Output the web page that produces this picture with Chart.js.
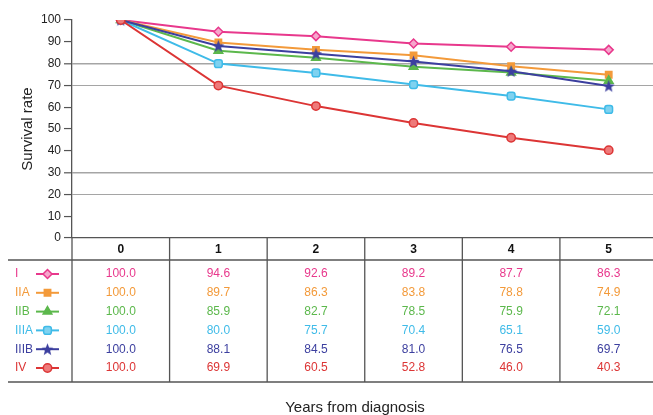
<!DOCTYPE html>
<html>
<head>
<meta charset="utf-8">
<script src="https://cdn.jsdelivr.net/npm/chart.js@4/dist/chart.umd.min.js"></script>
<style>
html, body { margin: 0; padding: 0; background: #fff; overflow: hidden; }
</style>
</head>
<body>
<canvas id="survival" width="665" height="415"></canvas>
<script>
var years = ['0', '1', '2', '3', '4', '5'];
var stages = ['I', 'IIA', 'IIB', 'IIIA', 'IIIB', 'IV'];
var stageI    = [100.0, 94.6, 92.6, 89.2, 87.7, 86.3];
var stageIIA  = [100.0, 89.7, 86.3, 83.8, 78.8, 74.9];
var stageIIB  = [100.0, 85.9, 82.7, 78.5, 75.9, 72.1];
var stageIIIA = [100.0, 80.0, 75.7, 70.4, 65.1, 59.0];
var stageIIIB = [100.0, 88.1, 84.5, 81.0, 76.5, 69.7];
var stageIV   = [100.0, 69.9, 60.5, 52.8, 46.0, 40.3];
var yTicks = [0, 10, 20, 30, 40, 50, 60, 70, 80, 90, 100];
var shadedLines = [20, 30, 70, 80];

var series = [stageI, stageIIA, stageIIB, stageIIIA, stageIIIB, stageIV];
var colors = ['#e8388c', '#f39a3a', '#5cb84c', '#3fbbe8', '#3c3f9f', '#dc3535'];
var fills  = ['#f6a6cc', '#f39a3a', '#5cb84c', '#7fd2f0', '#3c3f9f', '#ee7a7a'];

// filled five point star, the library's 'star' is only an asterisk
function starImage(color){
	var c = document.createElement('canvas');
	c.width = 13; c.height = 13;
	var g = c.getContext('2d');
	g.fillStyle = color;
	g.beginPath();
	for (var i = 0; i < 10; i++) {
		var r = i % 2 == 0 ? 6.4 : 2.7;
		var a = -Math.PI / 2 + i * Math.PI / 5;
		g.lineTo(6.5 + r * Math.cos(a), 7 + r * Math.sin(a));
	}
	g.closePath();
	g.fill();
	return c;
}
var styles = ['rectRot', 'rect', 'triangle', 'rectRounded', starImage('#3c3f9f'), 'circle'];
var radii = [4.5, 4.5, 5, 4.5, 6, 4.2];

var datasets = series.map(function(vals, i){
	return {
		label: stages[i],
		data: vals,
		borderColor: colors[i],
		backgroundColor: fills[i],
		borderWidth: 2,
		pointStyle: styles[i],
		pointRadius: radii[i],
		pointBorderWidth: 1.5,
		pointBorderColor: colors[i],
		pointBackgroundColor: fills[i],
		tension: 0,
		order: series.length - i
	};
});

var tablePlugin = {
	id: 'survivalTable',
	afterDraw: function(chart){
		var ctx = chart.ctx;
		var area = chart.chartArea;
		var xs = chart.scales.x;
		var top = area.bottom;
		var rule = top + 22;
		var bottom = top + 144;
		var right = chart.width;
		ctx.save();
		ctx.strokeStyle = '#555';
		ctx.lineWidth = 1.3;
		ctx.beginPath();
		ctx.moveTo(8, rule); ctx.lineTo(right, rule);
		ctx.moveTo(8, bottom); ctx.lineTo(right, bottom);
		ctx.moveTo(area.left, top); ctx.lineTo(area.left, bottom);
		for (var i = 1; i < years.length; i++) {
			var x = (xs.getPixelForValue(i - 1) + xs.getPixelForValue(i)) / 2;
			ctx.moveTo(x, top); ctx.lineTo(x, bottom);
		}
		ctx.stroke();

		ctx.textBaseline = 'middle';
		ctx.textAlign = 'center';
		ctx.fillStyle = '#111';
		ctx.font = 'bold 12px "Liberation Sans", Arial, sans-serif';
		for (var h = 0; h < years.length; h++) {
			ctx.fillText(years[h], xs.getPixelForValue(h), top + 12);
		}

		ctx.font = '12px "Liberation Sans", Arial, sans-serif';
		for (var r = 0; r < series.length; r++) {
			var y = top + 36 + r * 18.8;
			ctx.fillStyle = colors[r];
			ctx.textAlign = 'left';
			ctx.fillText(stages[r], 15, y);
			ctx.strokeStyle = colors[r];
			ctx.lineWidth = 2;
			ctx.beginPath();
			ctx.moveTo(36, y); ctx.lineTo(59, y);
			ctx.stroke();
			ctx.fillStyle = fills[r];
			ctx.lineWidth = 1.5;
			Chart.helpers.drawPoint(ctx, {pointStyle: styles[r], radius: radii[r], borderWidth: 1.5}, 47.5, y);
			ctx.textAlign = 'center';
			ctx.fillStyle = colors[r];
			for (var c = 0; c < years.length; c++) {
				ctx.fillText(series[r][c].toFixed(1), xs.getPixelForValue(c), y);
			}
		}

		ctx.fillStyle = '#222';
		ctx.font = '15px "Liberation Sans", Arial, sans-serif';
		ctx.textAlign = 'center';
		ctx.fillText('Years from diagnosis', 355, 408);
		ctx.restore();
	}
};

new Chart(document.getElementById('survival'), {
	type: 'line',
	data: { labels: years, datasets: datasets },
	plugins: [tablePlugin],
	options: {
		responsive: false,
		animation: false,
		layout: { padding: { top: 20, right: 0, bottom: 177, left: 0 } },
		plugins: { legend: { display: false }, tooltip: { enabled: false } },
		scales: {
			x: {
				type: 'category',
				offset: true,
				grid: { display: false },
				border: { display: true, color: '#555', width: 1.3 },
				ticks: { display: false },
				afterFit: function(scale){ scale.height = 0; }
			},
			y: {
				min: 0,
				max: 100,
				afterBuildTicks: function(scale){
					scale.ticks = yTicks.map(function(v){ return { value: v }; });
				},
				afterFit: function(scale){ scale.width = 72; },
				grid: {
					color: function(c){ return shadedLines.indexOf(c.tick.value) >= 0 ? '#a5a5a5' : 'rgba(0,0,0,0)'; },
					lineWidth: function(c){ return (c.tick.value == 80 || c.tick.value == 30) ? 1.6 : 1.1; },
					tickColor: '#555',
					tickLength: 8,
					tickWidth: 1.2
				},
				border: { display: true, color: '#555', width: 1.3 },
				ticks: {
					color: '#222',
					padding: 3,
					font: { family: '"Liberation Sans", Arial, sans-serif', size: 12 }
				},
				title: {
					display: true,
					text: 'Survival rate',
					color: '#222',
					padding: { top: 19, bottom: 0 },
					font: { family: '"Liberation Sans", Arial, sans-serif', size: 15 }
				}
			}
		}
	}
});
</script>
</body>
</html>
